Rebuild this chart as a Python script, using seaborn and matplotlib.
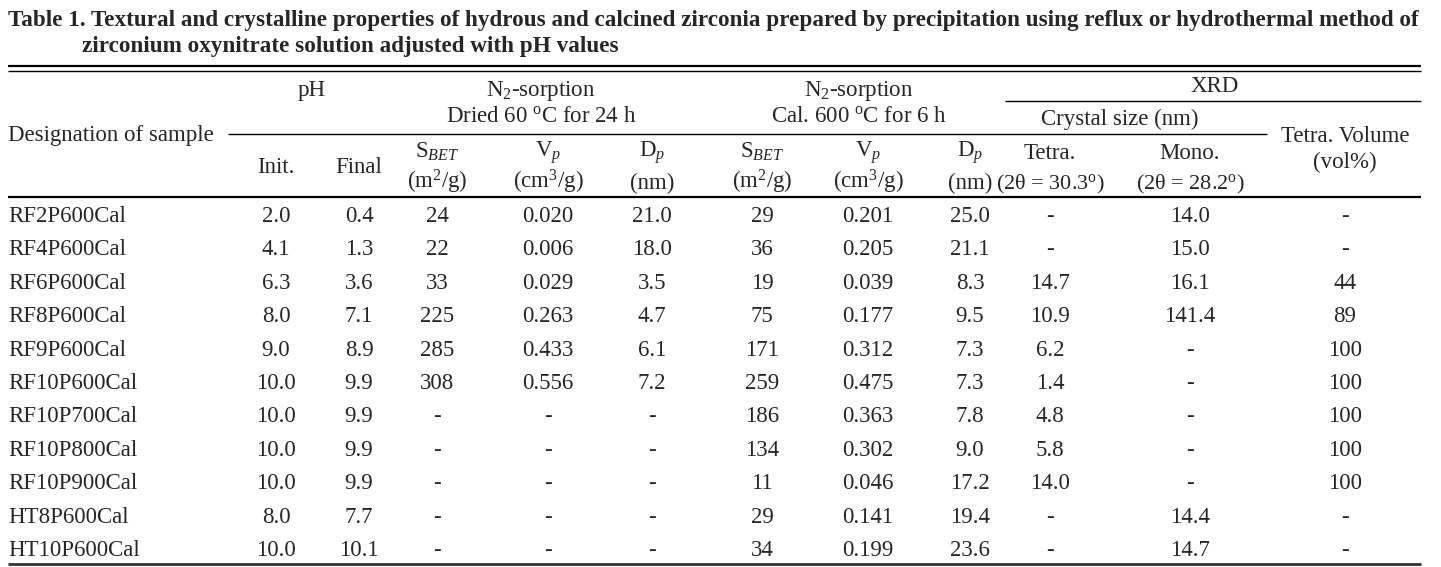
import matplotlib
matplotlib.use("Agg")
import matplotlib.pyplot as plt
import seaborn as sns

# table values, None = "-"
samples = ["RF2P600Cal", "RF4P600Cal", "RF6P600Cal", "RF8P600Cal", "RF9P600Cal",
           "RF10P600Cal", "RF10P700Cal", "RF10P800Cal", "RF10P900Cal",
           "HT8P600Cal", "HT10P600Cal"]
ph_init = [2.0, 4.1, 6.3, 8.0, 9.0, 10.0, 10.0, 10.0, 10.0, 8.0, 10.0]
ph_final = [0.4, 1.3, 3.6, 7.1, 8.9, 9.9, 9.9, 9.9, 9.9, 7.7, 10.1]
sbet_dried = [24, 22, 33, 225, 285, 308, None, None, None, None, None]
vp_dried = [0.020, 0.006, 0.029, 0.263, 0.433, 0.556, None, None, None, None, None]
dp_dried = [21.0, 18.0, 3.5, 4.7, 6.1, 7.2, None, None, None, None, None]
sbet_cal = [29, 36, 19, 75, 171, 259, 186, 134, 11, 29, 34]
vp_cal = [0.201, 0.205, 0.039, 0.177, 0.312, 0.475, 0.363, 0.302, 0.046, 0.141, 0.199]
dp_cal = [25.0, 21.1, 8.3, 9.5, 7.3, 7.3, 7.8, 9.0, 17.2, 19.4, 23.6]
tetra_size = [None, None, 14.7, 10.9, 6.2, 1.4, 4.8, 5.8, 14.0, None, None]
mono_size = [14.0, 15.0, 16.1, 141.4, None, None, None, None, None, 14.4, 14.7]
tetra_vol = [None, None, 44, 89, 100, 100, 100, 100, 100, None, None]

title_1 = ("Table 1. Textural and crystalline properties of hydrous and calcined zirconia "
           "prepared by precipitation using reflux or hydrothermal method of")
title_2 = "zirconium oxynitrate solution adjusted with pH values"

sns.set_theme(style="white")
plt.rcParams["font.family"] = ["Liberation Serif", "DejaVu Serif"]
plt.rcParams["mathtext.fontset"] = "custom"
plt.rcParams["mathtext.rm"] = "Liberation Serif"
plt.rcParams["mathtext.it"] = "Liberation Serif:italic"

W, H = 1441, 567
fig = plt.figure(figsize=(W / 100, H / 100), dpi=100)
ax = fig.add_axes([0, 0, 1, 1])
ax.set_xlim(0, W)
ax.set_ylim(H, 0)
ax.axis("off")

FS = 16.5
x_left, x_right = 8, 1421

# title, sized to fill the width like the justified original
t1 = ax.text(x_left, 26, title_1, fontsize=16, fontweight="bold", va="baseline")
fig.canvas.draw()
w = t1.get_window_extent(fig.canvas.get_renderer()).width
tfs = 16 * (x_right - x_left) / w
t1.set_fontsize(tfs)
ax.text(82, 52, title_2, fontsize=tfs, fontweight="bold", va="baseline")

# rules
ax.hlines([66], x_left, x_right, color="black", lw=1.6)
ax.hlines([71], x_left, x_right, color="black", lw=1.0)
ax.hlines([101], 1005, x_right, color="black", lw=1.0)
ax.hlines([134], 228, 1267, color="black", lw=1.0)
ax.hlines([197], x_left, x_right, color="black", lw=1.6)
ax.hlines([564], x_left, x_right, color="#333333", lw=2.0)

# header
hdr = dict(fontsize=FS, ha="center", va="baseline")
ax.text(x_left, 141, "Designation of sample", fontsize=FS, ha="left", va="baseline")
ax.text(312, 96, "pH", **hdr)
ax.text(541, 96, r"N$_2$-sorption", **hdr)
ax.text(541, 122, r"Dried 60 $^{\mathrm{o}}$C for 24 h", **hdr)
ax.text(859, 96, r"N$_2$-sorption", **hdr)
ax.text(859, 122, r"Cal. 600 $^{\mathrm{o}}$C for 6 h", **hdr)
ax.text(1215, 92, "XRD", **hdr)
ax.text(1120, 125, "Crystal size (nm)", **hdr)
ax.text(1345, 142, "Tetra. Volume", **hdr)
ax.text(1345, 168, "(vol%)", **hdr)

col_x = [276, 359, 437, 548, 652, 762, 868, 970, 1050, 1190, 1345]
ax.text(col_x[0], 173, "Init.", **hdr)
ax.text(col_x[1], 173, "Final", **hdr)
for cx in (col_x[2], col_x[5]):
    ax.text(cx, 158, r"S$_{\it BET}$", **hdr)
    ax.text(cx, 189, r"(m$^2$/g)", **hdr)
for cx in (col_x[3], col_x[6]):
    ax.text(cx, 157, r"V$_{\it p}$", **hdr)
    ax.text(cx, 189, r"(cm$^3$/g)", **hdr)
for cx in (col_x[4], col_x[7]):
    ax.text(cx, 157, r"D$_{\it p}$", **hdr)
    ax.text(cx, 189, "(nm)", **hdr)
ax.text(col_x[8], 159, "Tetra.", **hdr)
ax.text(col_x[8], 189, r"(2θ = 30.3$^{\mathrm{o}}$)", fontsize=16, ha="center", va="baseline")
ax.text(col_x[9], 159, "Mono.", **hdr)
ax.text(col_x[9], 189, r"(2θ = 28.2$^{\mathrm{o}}$)", fontsize=16, ha="center", va="baseline")

# body
columns = [(ph_init, "{:.1f}"), (ph_final, "{:.1f}"),
           (sbet_dried, "{:.0f}"), (vp_dried, "{:.3f}"), (dp_dried, "{:.1f}"),
           (sbet_cal, "{:.0f}"), (vp_cal, "{:.3f}"), (dp_cal, "{:.1f}"),
           (tetra_size, "{:.1f}"), (mono_size, "{:.1f}"), (tetra_vol, "{:.0f}")]
row0, row_step = 222, 33.4
for i, name in enumerate(samples):
    yb = row0 + i * row_step
    ax.text(x_left, yb, name, fontsize=FS, ha="left", va="baseline")
    for cx, (vals, fmt) in zip(col_x, columns):
        v = vals[i]
        s = "-" if v is None else fmt.format(v)
        ax.text(cx, yb, s, fontsize=FS, ha="center", va="baseline")

fig.savefig("out.png", dpi=100, facecolor="white")
